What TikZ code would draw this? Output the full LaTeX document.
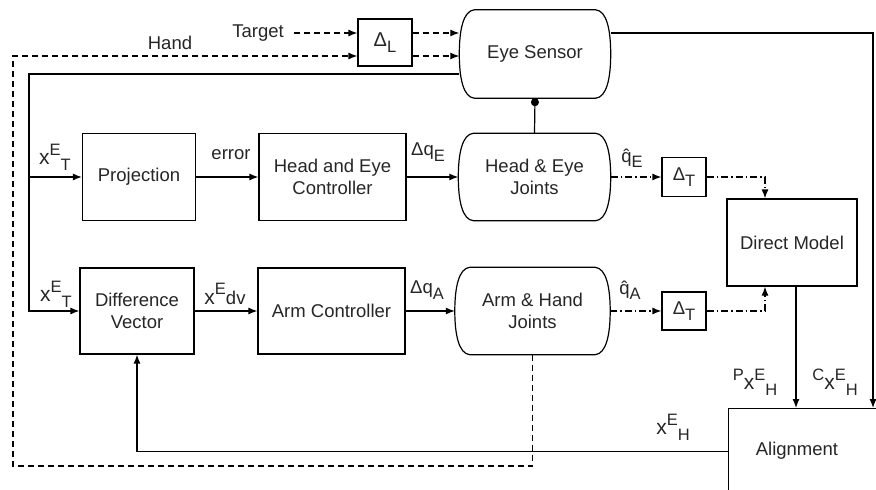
\documentclass[tikz,border=0pt]{standalone}
\usepackage{fontspec}
\setmainfont{Liberation Sans}
\usetikzlibrary{arrows.meta}
\newcommand\myup[1]{\raisebox{0.5em}{\fontsize{16.5}{16.5}\selectfont #1}}
\newcommand\mydn[1]{\raisebox{-0.3em}{\fontsize{16.5}{16.5}\selectfont #1}}
\newcommand\bigx{{\fontsize{21}{21}\selectfont x}}
\newcommand\myhat[1]{\ooalign{#1\cr\hidewidth ˆ\hidewidth\cr}}
\newcommand\jointshape[1]{%
  \draw[conn] ([xshift=15pt]#1.north west) -- ([xshift=-15pt]#1.north east)
   .. controls ([xshift=-4pt,yshift=-1pt]#1.north east) and ([yshift=-20pt]#1.north east) .. (#1.east)
   .. controls ([yshift=20pt]#1.south east) and ([xshift=-4pt,yshift=1pt]#1.south east) .. ([xshift=-15pt]#1.south east)
   -- ([xshift=15pt]#1.south west)
   .. controls ([xshift=4pt,yshift=1pt]#1.south west) and ([yshift=20pt]#1.south west) .. (#1.west)
   .. controls ([yshift=-20pt]#1.north west) and ([xshift=4pt,yshift=-1pt]#1.north west) .. cycle;}
\begin{document}
\begin{tikzpicture}[x=1pt,y=-1pt,
  conn/.style={line width=1.2pt, black},
  box/.style={draw, line width=1.2pt, rectangle, align=center, inner sep=0pt, font=\fontsize{18.5}{22}\selectfont, text=black!85},
  jnt/.style={rectangle, align=center, inner sep=0pt, font=\fontsize{18.5}{22}\selectfont, text=black!85},
  lbl/.style={font=\fontsize{18.5}{18.5}\selectfont, inner sep=0pt, text=black!85},
  arr/.style={conn, -{Latex[length=9pt,width=7pt]}},
  dsh/.style={dash pattern=on 6pt off 4pt},
  dd/.style={dash pattern=on 7pt off 3pt on 1.5pt off 3pt}]
\useasboundingbox (0,0) rectangle (876,490);
\clip (0,0) rectangle (876,490);
% nodes
\node[jnt, minimum width=151pt, minimum height=88pt] (es) at (535,54) {Eye Sensor};
\node[box, minimum width=54pt, minimum height=47pt] (dl) at (385,42.5) {\fontsize{20}{20}\selectfont Δ\mydn{L}};
\node[box, minimum width=113pt, minimum height=87pt] (proj) at (139,177) {Projection};
\node[box, minimum width=147pt, minimum height=87pt] (hec) at (332.5,177) {Head and Eye\\Controller};
\node[jnt, minimum width=152pt, minimum height=87pt] (hej) at (534.5,177) {Head \& Eye\\Joints};
\node[box, minimum width=44pt, minimum height=39pt] (dt1) at (684,177) {Δ\mydn{T}};
\node[box, minimum width=130pt, minimum height=87pt] (dm) at (792,242.5) {Direct Model};
\node[box, minimum width=114pt, minimum height=86pt] (dv) at (137,311) {Difference\\Vector};
\node[box, minimum width=147pt, minimum height=86pt] (ac) at (331.5,311) {Arm Controller};
\node[jnt, minimum width=155pt, minimum height=87pt] (ahj) at (532.5,311) {Arm \& Hand\\Joints};
\node[box, minimum width=44pt, minimum height=38pt] (dt2) at (684,311) {Δ\mydn{T}};
\node[box, minimum width=172pt, minimum height=86pt, anchor=north west] (al) at (728,408) {};
\node[jnt] (altxt) at (797,451) {Alignment};
\jointshape{es}
\jointshape{hej}
\jointshape{ahj}
% labels
\node[lbl] (tg) at (258,33) {Target};
\node[lbl] (hand) at (170,43) {Hand};
\node[lbl] (err) at (231,155) {error};
\node[lbl] (dqe) at (428,152) {Δq\mydn{E}};
\node[lbl] (qe) at (632,160) {\myhat{q}\mydn{E}};
\node[lbl] (xt1) at (55,157) {\bigx\myup{E}\mydn{T}};
\node[lbl] (xt2) at (56,294) {\bigx\myup{E}\mydn{T}};
\node[lbl] (xdv) at (225,294) {\bigx\myup{E}dv};
\node[lbl] (dqa) at (427,290) {Δq\mydn{A}};
\node[lbl] (qa) at (630,292) {\myhat{q}\mydn{A}};
\node[lbl] (pxh) at (755,382) {\myup{P}\bigx\myup{E}\mydn{H}};
\node[lbl] (cxh) at (835,382) {\myup{C}\bigx\myup{E}\mydn{H}};
\node[lbl] (xh) at (673,427) {\bigx\myup{E}\mydn{H}};
% coordinates
\coordinate (hy) at (0,56);
\coordinate (hb) at (13,466);
\coordinate (fl) at (29,0);
\coordinate (rx) at (873,0);
% connectors
\draw[arr,dsh] ([xshift=10pt]tg.east) -- (dl.west |- tg.east);
\draw[arr,dsh] (dl.east |- tg.east) -- (es.west |- tg.east);
\draw[arr,dsh] (dl.east |- hy) -- (es.west |- hy);
\draw[arr,dsh] (ahj.south) |- (hb) |- (dl.west |- hy);
\draw[arr] ([yshift=-20pt]es.west) -| (fl |- dv.west) -- (dv.west);
\draw[arr] (fl |- proj.west) -- (proj.west);
\draw[arr] (proj.east) -- (hec.west);
\draw[arr] (hec.east) -- (hej.west);
\draw[arr,dd] (hej.east) -- (dt1.west);
\draw[arr,dd] (dt1.east) -| ([xshift=-27pt]dm.north);
\draw[conn, {Circle[length=8pt]}-] (es.south) -- (hej.north);
\draw[arr] (dv.east) -- (ac.west);
\draw[arr] (ac.east) -- (ahj.west);
\draw[arr,dd] (ahj.east) -- (dt2.west);
\draw[arr,dd] (dt2.east) -| ([xshift=-27pt]dm.south);
\draw[arr] ([xshift=4pt]dm.south) -- ([xshift=4pt]dm.south |- al.north);
\draw[arr] ([yshift=21pt]es.east) -| (rx |- al.north);
\draw[arr] (al.west) -| (dv.south);
\end{tikzpicture}
\end{document}
